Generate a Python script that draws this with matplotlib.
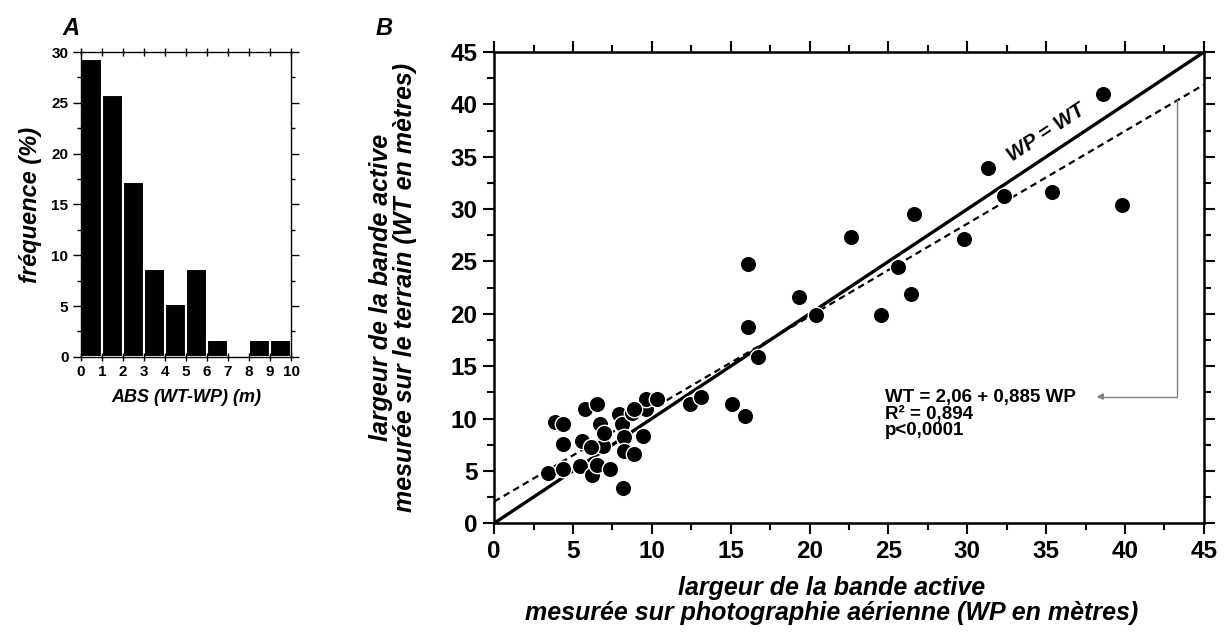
import matplotlib
matplotlib.use("Agg")
import matplotlib.pyplot as plt
from matplotlib.ticker import MultipleLocator

plt.rcParams["font.family"] = ["Liberation Sans", "DejaVu Sans"]
plt.rcParams["font.weight"] = "bold"

# panel A: histogram of ABS(WT-WP)
bin_left = [0, 1, 2, 3, 4, 5, 6, 7, 8, 9]
freq_pct = [29.3, 25.8, 17.2, 8.6, 5.2, 8.6, 1.7, 0.0, 1.7, 1.7]

# panel B: field width vs air-photo width
wp = [3.4, 3.85, 4.35, 4.35, 4.35, 5.45, 5.6, 5.75, 6.5, 6.2, 6.55, 6.7, 6.9, 7.0,
      6.15, 7.35, 7.95, 8.1, 8.25, 8.25, 8.2, 8.75, 8.85, 9.45, 9.6, 9.6, 10.3,
      8.85, 12.45, 13.1, 15.1, 15.9, 16.1, 16.1, 16.7, 19.3, 20.4, 22.6, 24.5,
      25.6, 26.4, 26.6, 29.8, 31.3, 32.3, 35.4, 39.8, 38.6]
wt = [4.8, 9.7, 9.5, 7.6, 5.2, 5.5, 7.85, 10.9, 11.4, 4.6, 5.55, 9.5, 7.35, 8.6,
      7.3, 5.2, 10.4, 9.5, 8.25, 6.9, 3.4, 10.5, 6.6, 8.3, 10.9, 11.85, 11.85,
      10.95, 11.4, 12.05, 11.4, 10.2, 24.8, 18.7, 15.9, 21.6, 19.9, 27.3, 19.9,
      24.5, 21.9, 29.5, 27.1, 33.9, 31.3, 31.6, 30.4, 41.0]
intercept, slope = 2.06, 0.885
line_x = [0, 45]

fig = plt.figure(figsize=(12.26, 6.35), dpi=100)

# ---------------- panel A
axa = fig.add_axes([0.066, 0.438, 0.1714, 0.480])
axa.bar(bin_left, freq_pct, width=1, align="edge", color="black",
        edgecolor="white", linewidth=1.5)
axa.set_xlim(0, 10)
axa.set_ylim(0, 30)
axa.xaxis.set_major_locator(MultipleLocator(1))
axa.yaxis.set_major_locator(MultipleLocator(5))
axa.yaxis.set_minor_locator(MultipleLocator(2.5))
axa.tick_params(axis="both", which="major", direction="inout", length=6,
                width=1, labelsize=11, pad=3, top=True, right=True)
axa.tick_params(axis="both", which="minor", direction="in", length=3,
                width=1, top=True, right=True)
axa.tick_params(axis="y", which="both", right=True, direction="out")
for lab in axa.get_xticklabels() + axa.get_yticklabels():
    lab.set_fontweight("bold")
for sp in axa.spines.values():
    sp.set_linewidth(1)
axa.set_ylabel("fréquence (%)", fontsize=17, fontstyle="italic",
               fontweight="bold")
axa.yaxis.set_label_coords(-0.185, 0.5)
axa.set_xlabel("ABS (WT-WP) (m)", fontsize=13, fontstyle="italic",
               fontweight="bold")
axa.xaxis.set_label_coords(0.5, -0.105)
fig.text(0.051, 0.955, "A", fontsize=17, fontstyle="italic",
         fontweight="bold", ha="left", va="center")

# ---------------- panel B
axb = fig.add_axes([0.403, 0.176, 0.579, 0.742])
axb.plot(line_x, line_x, color="black", lw=2.4, zorder=2)
fit_y = [intercept + slope * x for x in line_x]
axb.plot(line_x, fit_y, color="black", lw=1.6, ls=(0, (3, 2)), zorder=2)
axb.scatter(wp, wt, s=140, color="black", edgecolor="white", linewidth=1,
            zorder=3)
axb.set_xlim(0, 45)
axb.set_ylim(0, 45)
axb.xaxis.set_major_locator(MultipleLocator(5))
axb.xaxis.set_minor_locator(MultipleLocator(2.5))
axb.yaxis.set_major_locator(MultipleLocator(5))
axb.yaxis.set_minor_locator(MultipleLocator(2.5))
axb.tick_params(axis="both", which="major", direction="out", length=8,
                width=1.5, labelsize=17.5, pad=4, top=True, right=True)
axb.tick_params(axis="both", which="minor", direction="out", length=5,
                width=1.5, top=True, right=True)
for lab in axb.get_xticklabels() + axb.get_yticklabels():
    lab.set_fontweight("bold")
for sp in axb.spines.values():
    sp.set_linewidth(1.8)

axb.set_xlabel("largeur de la bande active\n"
               "mesurée sur photographie aérienne (WP en mètres)",
               fontsize=18, fontstyle="italic", fontweight="bold",
               linespacing=1.05)
axb.xaxis.set_label_coords(0.476, -0.112)
axb.xaxis.label.set_va("top")
axb.set_ylabel("largeur de la bande active\n"
               "mesurée sur le terrain (WT en mètres)",
               fontsize=18, fontstyle="italic", fontweight="bold",
               linespacing=1.0)
axb.yaxis.set_label_coords(-0.108, 0.5)

axb.text(35.0, 37.3, "WP = WT", fontsize=15, fontstyle="italic",
         fontweight="bold", rotation=33.5, rotation_mode="anchor",
         ha="center", va="center")

arrow_x = 43.3
axb.annotate("", xy=(38.2, 12.1), xytext=(arrow_x, intercept + slope * arrow_x),
             arrowprops=dict(arrowstyle="-|>", color="gray", lw=1,
                             mutation_scale=9,
                             connectionstyle="angle,angleA=-90,angleB=0,rad=0",
                             shrinkA=0, shrinkB=0))
axb.text(24.8, 12.8, "WT = 2,06 + 0,885 WP\nR² = 0,894\np<0,0001",
         fontsize=13.5, fontweight="bold", ha="left", va="top",
         linespacing=0.95)
fig.text(0.306, 0.955, "B", fontsize=17, fontstyle="italic",
         fontweight="bold", ha="left", va="center")

fig.savefig("out.png", dpi=100)
